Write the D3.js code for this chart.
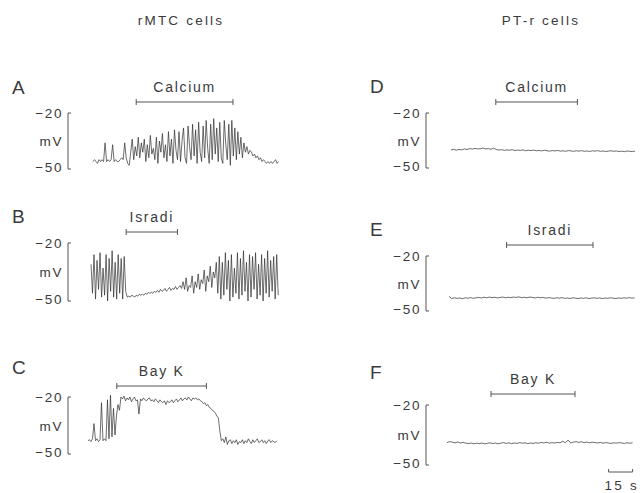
<!DOCTYPE html>
<html>
<head>
<style>
  body {
    background-color: white;
    margin: 0px;
  }
  text {
    font-family: "Liberation Sans", Arial, sans-serif;
    fill: #3a3a3a;
  }
  path.trace {
    fill: none;
    stroke: #2e2e2e;
    stroke-width: 0.7;
    stroke-linejoin: round;
  }
  path.bar {
    fill: none;
    stroke: #555;
    stroke-width: 1;
  }
</style>
<script src="https://cdn.jsdelivr.net/npm/d3@7"></script>
</head>
<body>
<svg></svg>
<script>
// membrane potential (mV), sampled evenly across each recording
const traceA = [-46,-45,-46,-47,-45,-46,-45,-46,-36,-46,-45,-46,-45,-37,-46,-45,-46,-46,-45,-44,-45,-36,-44,-47,-48,
  -41,-34,-45,-38,-43,-33,-44,-36,-41,-34,-46,-37,-44,-32,-42,-39,-45,-33,-47,-35,-41,-31,-44,-37,-46,-30,-43,-34,-47,
  -29,-40,-45,-30,-46,-35,-28,-44,-47,-27,-38,-45,-26,-43,-29,-47,-25,-41,-46,-27,-44,-24,-39,-47,-26,-45,-23,-42,
  -28,-46,-25,-44,-47,-24,-37,-45,-26,-48,-24,-43,
  -28,-45,-30,-42,-33,-44,-36,-41,-38,-42,-40,
  -41,-43,-42,-44,-43,-45,-44,-46,-45,-46,-47,-46,-47,-46,-47,-46,-45,-47,-46];
const traceB = [-31,-46,-26,-49,-29,-44,-25,-48,-33,-47,-26,-50,-28,-45,-24,-48,-30,-49,-26,-46,-28,-49,-27,
  -45,-48,-47.5,-48,-47,-47.5,-48,-47,-47.5,-46.5,-47,-46.5,-47,-46,-46.5,-45.5,-46,-45.5,-46,-45,-45.5,
  -44.5,-45.5,-44,-45,-44.5,-43.5,-45,-44,-43,-44.5,-43.5,-44,-42.5,-44,-43,-42,-43.5,
  -40,-44,-38,-45,-42,-43,-37,-46,-40,-43,-36,-44,-39,-41,-34,-45,-37,-40,-32,-43,-35,-38,-30,
  -46,-27,-49,-30,-47,-25,-44,-29,-50,-26,-48,-33,-46,-25,-49,-28,-47,-24,-45,-30,-50,-26,-48,-27,-44,-25,
  -49,-31,-47,-26,-50,-28,-46,-24,-48,-29,-45,-27,-49,-26,-47];
const traceC = [-43,-42.5,-43.5,-42,-34,-43,-42,-43.5,-42.5,-23,-43,-42,-43,-21.5,-42,-19,-41,-26,-40,-30,-24,-27,-20,
  -21,-19.5,-22,-20.5,-21.5,-20,-22.5,-21,-20,-22,-21.5,-29,-21,-22,-20.5,-21.5,-22,-21,-20.5,-22,
  -21.5,-22.5,-21,-22,-23,-21.5,-22.5,-23,-22,-24,-22,-23,-22.5,-21.5,-23,-22,-21,-22.5,-21.5,-20.5,
  -22,-21,-20.5,-21.5,-20,-21,-22,-20.5,-21,-20.5,-21.5,-21,-22,
  -22.5,-23.5,-23,-24.5,-24,-25.5,-26,-27,-27.5,-28.5,-30,-31,-38,-43,
  -42,-44,-41,-45,-43,-42.5,-44.5,-43,-44,-42.5,-45,-43.5,-44,-42.5,-44.5,-43,-44,-42,-43.5,-44.5,
  -42.5,-44,-43,-42,-44,-43.5,-42.5,-44,-43,-44.5,-43,-42.5,-44,-43,-43.5,-44,-43];
const traceD = [-40.2,-39.8,-40.3,-39.9,-40.1,-39.6,-39.9,-39.4,-39.7,-39.3,-39.6,-39.5,-39.1,-39.6,-39.4,-39.8,
  -39.2,-39.9,-40.2,-40.0,-40.4,-40.1,-40.3,-40.0,-40.5,-40.2,-40.4,-40.1,-40.6,-40.3,-40.5,-40.2,-40.6,-40.4,
  -40.7,-40.3,-40.6,-40.8,-40.5,-40.7,-40.4,-40.8,-40.6,-40.9,-40.5,-40.7,-40.9,-40.6,-40.8,-40.5,-40.9,-40.7,
  -41.0,-40.6,-40.8,-40.5,-40.9,-40.7,-41.0,-40.8,-40.6,-40.9,-40.7,-41.0,-40.8,-41.1,-40.7,-40.9,-41.0,-40.8];
const traceE = [-42.0,-43.2,-42.8,-43.1,-42.9,-43.3,-42.8,-43.0,-42.7,-43.1,-42.8,-42.6,-42.9,-42.5,-42.8,-42.4,
  -42.7,-42.5,-42.9,-42.6,-42.4,-42.8,-42.5,-42.7,-42.4,-42.6,-42.3,-42.7,-42.5,-42.8,-42.4,-42.6,-42.9,-42.5,
  -42.8,-42.6,-43.0,-42.7,-42.9,-43.1,-42.8,-43.0,-42.7,-43.1,-42.9,-43.2,-42.8,-43.0,-43.2,-42.9,-43.1,-42.8,
  -43.2,-43.0,-42.8,-43.1,-42.9,-43.2,-42.9,-43.1,-42.8,-43.0,-43.2,-42.9,-43.1,-42.8,-43.0,-42.7,-43.0,-42.8];
const traceF = [-38.8,-38.3,-38.6,-38.9,-38.5,-39.0,-38.7,-39.1,-39.3,-39.0,-39.4,-39.1,-39.3,-39.0,-39.4,-39.2,
  -38.9,-39.3,-39.0,-39.4,-39.1,-38.8,-39.2,-38.9,-39.3,-39.0,-39.2,-38.8,-39.1,-38.9,-39.3,-39.0,-39.2,-38.9,
  -39.1,-38.7,-39.0,-38.6,-39.1,-38.8,-39.0,-38.7,-38.9,-38.2,-38.8,-37.6,-38.9,-38.6,-38.3,-38.7,-38.4,-38.8,
  -38.5,-38.9,-38.6,-38.8,-39.0,-38.7,-39.1,-38.8,-39.0,-39.2,-38.9,-39.1,-38.8,-39.0,-39.2,-38.9,-39.1,-38.9];

const panelLetters = ["A", "B", "C", "D", "E", "F"];
const drugNames = ["Calcium", "Isradi", "Bay K", "Calcium", "Isradi", "Bay K"];
const durations = [116, 117, 118, 115, 116, 116];            // s
const drugOn = [[27, 87.5], [22, 54], [18, 74], [28, 79], [36, 90], [27.5, 80]]; // s
const columnTitles = ["rMTC cells", "PT-r cells"];
const mVTicks = ["\u221220", "mV", "\u221250"];
const timeBar = 15; // s

const traces = [traceA, traceB, traceC, traceD, traceE, traceF];

// layout
const width = 640, height = 493;
const pxPerSec = 1.6;
const layout = [
  {lx: 12, ly: 94, axisX: 68, top: 113, bottom: 169, x0: 93},
  {lx: 12, ly: 223, axisX: 68, top: 243, bottom: 301, x0: 91},
  {lx: 12, ly: 374, axisX: 68, top: 397, bottom: 454, x0: 88},
  {lx: 370, ly: 93, axisX: 426, top: 113, bottom: 168, x0: 451},
  {lx: 370, ly: 236, axisX: 426, top: 256, bottom: 311, x0: 449},
  {lx: 370, ly: 379, axisX: 426, top: 405, bottom: 465, x0: 447}
];

const svg = d3.select("svg")
    .attr("width", width)
    .attr("height", height);

svg.selectAll("text.title")
    .data(columnTitles)
  .enter().append("text")
    .attr("class", "title")
    .attr("x", function(d, i) {return i == 0 ? 181 : 541})
    .attr("y", 25)
    .attr("text-anchor", "middle")
    .style("font-size", "13.5px")
    .style("letter-spacing", "2.2px")
    .text(function(d) {return d});

traces.forEach(function(data, p) {
  const L = layout[p];
  const x = d3.scaleLinear().domain([0, durations[p]]).range([L.x0, L.x0 + durations[p] * pxPerSec]);
  const y = d3.scaleLinear().domain([-50, -20]).range([L.bottom, L.top]);
  const t = d3.scaleLinear().domain([0, data.length - 1]).range([0, durations[p]]);
  const g = svg.append("g");

  g.append("text")
    .attr("x", L.lx)
    .attr("y", L.ly)
    .style("font-size", "19px")
    .text(panelLetters[p]);

  // mV scale bar
  g.append("path")
    .attr("class", "bar")
    .attr("d", "M" + (L.axisX + 3) + "," + y(-20) + "H" + L.axisX + "V" + y(-50) + "H" + (L.axisX + 3));

  g.selectAll("text.mv")
      .data(mVTicks)
    .enter().append("text")
      .attr("class", "mv")
      .attr("x", L.axisX - 5)
      .attr("y", function(d, i) {return y([-20, -35, -50][i]) + [5, 5, 3][i]})
      .attr("text-anchor", "end")
      .style("font-size", "13.5px")
      .style("letter-spacing", "1.6px")
      .text(function(d) {return d});

  // drug application bar
  const a = x(drugOn[p][0]), b = x(drugOn[p][1]);
  const by = L.top - 11;
  g.append("path")
    .attr("class", "bar")
    .attr("d", "M" + a + "," + (by - 3) + "V" + (by + 3) + "M" + a + "," + by + "H" + b + "M" + b + "," + (by - 3) + "V" + (by + 3));
  g.append("text")
    .attr("x", (a + b) / 2)
    .attr("y", by - 10)
    .attr("text-anchor", "middle")
    .style("font-size", "14px")
    .style("letter-spacing", "1.7px")
    .text(drugNames[p]);

  const line = d3.line()
    .x(function(d, i) {return x(t(i))})
    .y(function(d) {return y(d)});

  g.append("path")
    .datum(data)
    .attr("class", "trace")
    .attr("d", line);

  if (p == 5) {
    const sx1 = x(durations[p]), sx0 = x(durations[p] - timeBar);
    const sy = 472;
    g.append("path")
      .attr("class", "bar")
      .attr("d", "M" + sx0 + "," + (sy - 3) + "V" + sy + "H" + sx1 + "V" + (sy - 3));
    g.append("text")
      .attr("x", sx0 - 4)
      .attr("y", 490)
      .style("font-size", "13.5px")
      .style("letter-spacing", "2.2px")
      .text(timeBar + " s");
  }
});
</script>
</body>
</html>
